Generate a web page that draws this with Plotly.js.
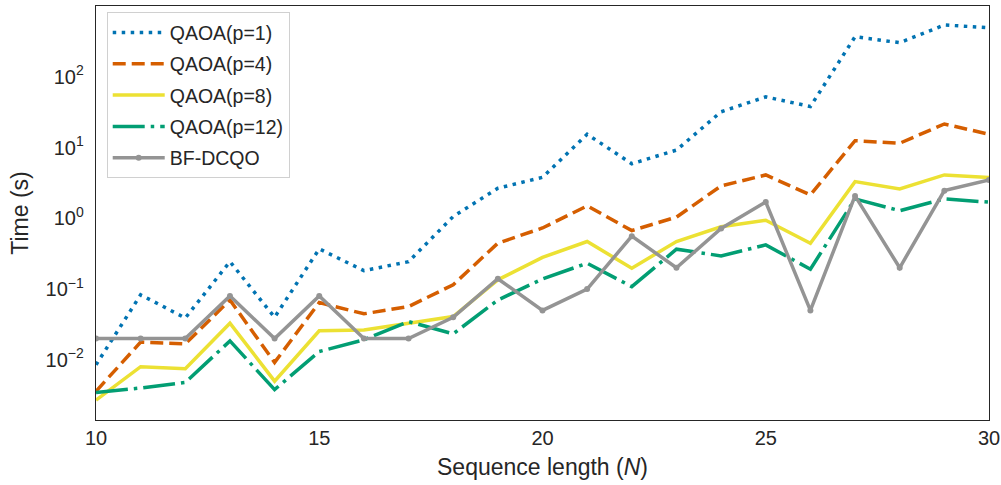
<!DOCTYPE html>
<html>
<head>
<meta charset="utf-8">
<script src="https://cdn.plot.ly/plotly-3.0.1.min.js"></script>
<style>html,body{margin:0;padding:0;background:#fff;}#chart{width:1001px;height:485px;}</style>
</head>
<body>
<div id="chart"></div>
<script>
const N = [10,11,12,13,14,15,16,17,18,19,20,21,22,23,24,25,26,27,28,29,30];
const qaoa_p1 = [0.0085,0.083,0.039,0.244,0.040,0.37,0.182,0.244,1.06,2.66,3.8,15.4,5.9,9.2,32,52,38,368,303,539,494];
const qaoa_p4 = [0.0036,0.0178,0.0168,0.070,0.0092,0.0645,0.0447,0.0566,0.115,0.445,0.73,1.50,0.67,1.04,2.87,4.1,2.14,12.5,11.5,21.5,15.4];
const qaoa_p8 = [0.0027,0.0080,0.0075,0.033,0.0050,0.0257,0.0265,0.033,0.041,0.135,0.28,0.47,0.197,0.47,0.76,0.94,0.445,3.3,2.6,4.1,3.76];
const qaoa_p12 = [0.00345,0.0040,0.0048,0.0185,0.0038,0.0131,0.0192,0.0347,0.0233,0.070,0.139,0.232,0.108,0.366,0.294,0.421,0.191,1.88,1.28,1.88,1.69];
const bf_dcqo = [0.02,0.02,0.02,0.08,0.02,0.08,0.02,0.02,0.04,0.14,0.05,0.10,0.56,0.20,0.72,1.7,0.05,2.07,0.20,2.46,3.49];
const seriesNames = ['QAOA(p=1)','QAOA(p=4)','QAOA(p=8)','QAOA(p=12)','BF-DCQO'];
const yTickVals = [0.01,0.1,1,10,100];
const yTickText = ['10<sup>\u22122</sup>','10<sup>\u22121</sup>','10<sup>0</sup>','10<sup>1</sup>','10<sup>2</sup>'];
const xTickVals = [10,15,20,25,30];

const FONT = 'Liberation Sans, Arial, sans-serif';
const LW = 3.5;
const traces = [
  {x:N, y:qaoa_p1, name:seriesNames[0], mode:'lines', line:{color:'#0173b2', width:LW, dash:'3.5px,5.5px'}},
  {x:N, y:qaoa_p4, name:seriesNames[1], mode:'lines', line:{color:'#d55e00', width:LW, dash:'13px,6px'}},
  {x:N, y:qaoa_p8, name:seriesNames[2], mode:'lines', line:{color:'#ece133', width:LW}},
  {x:N, y:qaoa_p12, name:seriesNames[3], mode:'lines', line:{color:'#029e73', width:LW, dash:'32px,6px,3.5px,6px'}},
  {x:N, y:bf_dcqo, name:seriesNames[4], mode:'lines+markers', line:{color:'#949494', width:LW}, marker:{color:'#949494', size:6}}
];
traces.forEach((t,i)=>{t.legendgroup='g'+i;});

const layout = {
  width:1001, height:485,
  margin:{l:96, r:12, t:6, b:65},
  paper_bgcolor:'#ffffff', plot_bgcolor:'#ffffff',
  font:{family:FONT, size:20, color:'#262626'},
  showlegend:true,
  legend:{x:0.012, y:0.985, xanchor:'left', yanchor:'top', bgcolor:'#ffffff', bordercolor:'#d0d0d0', borderwidth:1,
          font:{family:FONT, size:19.5, color:'#262626'}, itemwidth:52, tracegroupgap:3, traceorder:'grouped',
          entrywidth:140, entrywidthmode:'pixels'},
  xaxis:{range:[10,30], tickvals:xTickVals, ticks:'', showgrid:false, zeroline:false,
         showline:true, mirror:true, linecolor:'#262626', linewidth:1.25,
         tickfont:{family:FONT, size:20, color:'#262626'}, ticklabelstandoff:0,
         title:{text:'Sequence length (<i>N</i>)', font:{family:FONT, size:23, color:'#262626'}, standoff:10}},
  yaxis:{type:'log', range:[-2.85,3.0], tickvals:yTickVals, ticktext:yTickText, ticks:'', showgrid:false, zeroline:false,
         showline:true, mirror:true, linecolor:'#262626', linewidth:1.25,
         tickfont:{family:FONT, size:20, color:'#262626'}, ticklabelstandoff:7,
         title:{text:'Time (s)', font:{family:FONT, size:23, color:'#262626'}, standoff:10}}
};
Plotly.newPlot('chart', traces, layout, {displayModeBar:false, staticPlot:true});
</script>
</body>
</html>
